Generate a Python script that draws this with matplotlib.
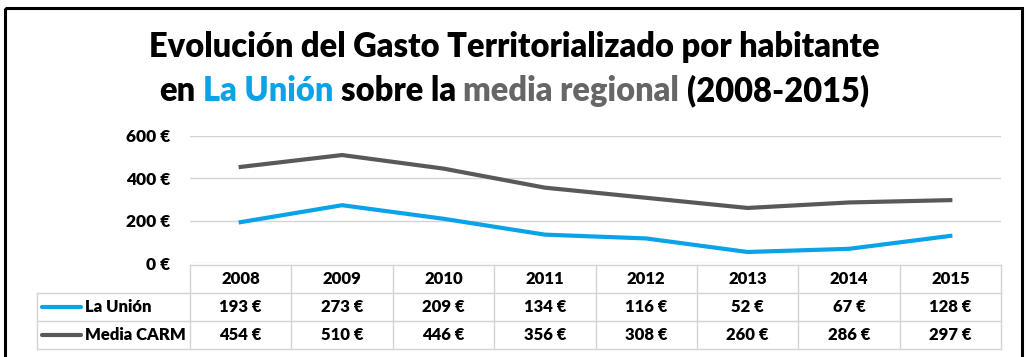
import matplotlib
matplotlib.use("Agg")
import matplotlib.pyplot as plt
from matplotlib.patches import Rectangle

# data
years = ['2008', '2009', '2010', '2011', '2012', '2013', '2014', '2015']
la_union = [193, 273, 209, 134, 116, 52, 67, 128]
media_carm = [454, 510, 446, 356, 308, 260, 286, 297]
series_names = ['La Unión', 'Media CARM']
y_ticks = [0, 200, 400, 600]

BLUE = '#0aa3e8'
GREY = '#595959'
GRID = '#d4d4d4'
FONT = 'Lato'
WT = 'heavy'

W, H = 1028, 357
plt.rcParams['font.family'] = [FONT, 'DejaVu Sans']

fig = plt.figure(figsize=(W / 100, H / 100), dpi=100)


def fx(px):
    return px / W


def fy(py):
    return 1 - py / H


# main line chart
left, right, top, bottom = 190, 1001, 136, 263
ax = fig.add_axes([fx(left), fy(bottom), fx(right) - fx(left), fy(top) - fy(bottom)])
xs = range(len(years))
ax.plot(xs, la_union, color=BLUE, lw=3.0, solid_joinstyle='round')
ax.plot(xs, media_carm, color=GREY, lw=3.0, solid_joinstyle='round')
ax.set_xlim(-0.5, len(years) - 0.5)
ax.set_ylim(0, 600)
ax.set_yticks(y_ticks)
ax.set_yticklabels([f'{v} €' for v in y_ticks], fontweight=WT, fontsize=12.5)
ax.set_xticks([])
ax.tick_params(length=0, pad=14)
ax.grid(axis='y', color=GRID, lw=1)
ax.set_axisbelow(True)
for s in ax.spines.values():
    s.set_visible(False)

# overlay in pixel coordinates for frame, title and data table
ov = fig.add_axes([0, 0, 1, 1], zorder=-1)
ov.set_xlim(0, W)
ov.set_ylim(H, 0)
ov.axis('off')
ov.add_patch(Rectangle((5, 8), 1017, 400, fill=False, ec='black', lw=2.2))

# title with coloured words
r = fig.canvas.get_renderer()
tsize = 23.5


def rich_line(parts, cy):
    sp = ov.text(0, 0, 'a a', fontsize=tsize, fontweight=WT)
    aa = ov.text(0, 0, 'aa', fontsize=tsize, fontweight=WT)
    space = sp.get_window_extent(r).width - aa.get_window_extent(r).width
    sp.remove()
    aa.remove()
    texts, widths = [], []
    for s, c in parts:
        t = ov.text(0, cy, s, color=c, fontsize=tsize, fontweight=WT, va='center', ha='left')
        texts.append(t)
        widths.append(t.get_window_extent(r).width)
    total = sum(widths) + space * (len(parts) - 1)
    x0 = W / 2 - total / 2
    for t, w in zip(texts, widths):
        t.set_x(x0)
        x0 += w + space


rich_line([('Evolución del Gasto Territorializado por habitante', 'black')], 47)
rich_line([('en', 'black'), ('La Unión', BLUE), ('sobre la', 'black'),
           ('media regional', '#666666'), ('(2008-2015)', 'black')], 91)

# data table
col_w = (right - left) / len(years)
rows = [265, 293, 321, 349]
lab_x = 37
ov.plot([left, right], [rows[0]] * 2, color=GRID, lw=1)
for ry in rows[1:]:
    ov.plot([lab_x, right], [ry] * 2, color=GRID, lw=1)
ov.plot([lab_x, lab_x], [rows[1], rows[3]], color=GRID, lw=1)
for i in range(len(years) + 1):
    cx = left + i * col_w
    ov.plot([cx, cx], [rows[0], rows[3]], color=GRID, lw=1)

tfs = 12
for i, yr in enumerate(years):
    cx = left + (i + 0.5) * col_w
    ov.text(cx, (rows[0] + rows[1]) / 2, yr, ha='center', va='center',
            fontsize=tfs, fontweight=WT)
    ov.text(cx, (rows[1] + rows[2]) / 2, f'{la_union[i]} €', ha='center', va='center',
            fontsize=tfs, fontweight=WT)
    ov.text(cx, (rows[2] + rows[3]) / 2, f'{media_carm[i]} €', ha='center', va='center',
            fontsize=tfs, fontweight=WT)

for k, (name, col) in enumerate(zip(series_names, [BLUE, GREY])):
    cy = (rows[k + 1] + rows[k + 2]) / 2
    ov.plot([42, 81], [cy, cy], color=col, lw=3.0, solid_capstyle='round')
    ov.text(85, cy, name, ha='left', va='center', fontsize=tfs, fontweight=WT)

fig.savefig('out.png', dpi=100)
